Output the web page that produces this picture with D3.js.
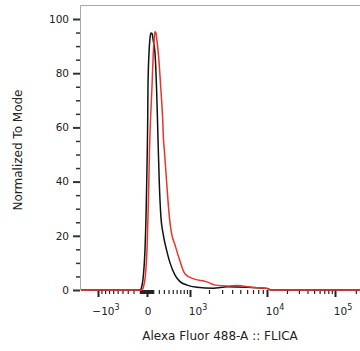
<!DOCTYPE html>
<html>
<head>
<meta charset="utf-8">
<script src="https://cdn.jsdelivr.net/npm/d3@7"></script>
<style>
    body { margin: 0; background: #fff; }
    text { font-family: "DejaVu Sans", sans-serif; fill: #222; }
</style>
</head>
<body>
<svg id="chart" width="360" height="351"></svg>
<script>
//////////////////// DATA ////////////////////
// [fluorescence, % of mode]
const controlCurve = [
    [-1625, 0], [-98, 0], [-73, 1.2], [-51, 4.9], [-27, 14.8], [-13, 27], [-4, 39.5],
    [4.5, 51.7], [10.6, 62.7], [15, 75], [31, 87.5], [47, 93], [62, 94.8], [80, 94.6],
    [100, 92], [130, 87.5], [157, 75], [175, 62.7], [190, 51.7], [209, 39.5], [240, 27],
    [282, 21], [356, 14.8], [435, 10], [557, 5.5], [691, 3.1], [902, 1.8], [1323, 1.0],
    [2295, 0.6], [3510, 1.2], [6104, 1.0], [10000, 0.6], [11500, 0], [262144, 0]
];

const flicaCurve = [
    [-1625, 0], [-69, 0], [-48, 1.2], [-23, 4.9], [0, 14.8], [15, 27], [27.7, 39.5],
    [38.7, 51.7], [54.6, 62.7], [79, 75], [101, 87.5], [118, 93], [130, 95.3], [145, 95],
    [165, 92], [190, 87.5], [236, 75], [276, 62.7], [292, 55.4], [309, 51.7], [360, 39.5],
    [419, 27], [470, 21], [557, 16.6], [663, 11.8], [839, 5.9], [1133, 4.2], [1825, 3.1],
    [2447, 1.8], [3510, 1.5], [4651, 1.7], [6104, 1.2], [7939, 0.8], [10000, 0.6],
    [11500, 0], [262144, 0]
];

// axis ticks
const yMajorTicks = [0, 20, 40, 60, 80, 100];
const yMinorTicks = [5, 10, 15, 25, 30, 35, 45, 50, 55, 65, 70, 75, 85, 90, 95];
const xMajorTicks = [-1000, 0, 1000, 10000, 100000];
const xMinorTicks = [].concat(
    d3.range(-900, 0, 100), d3.range(-90, 0, 10), d3.range(10, 100, 10),
    d3.range(100, 1000, 100), d3.range(2000, 10000, 1000),
    d3.range(20000, 100000, 10000), [200000]
);
const xTickLabels = [
    { value: -1000, base: "\u221210", exp: "3" },
    { value: 0, base: "0", exp: "" },
    { value: 1000, base: "10", exp: "3" },
    { value: 10000, base: "10", exp: "4" },
    { value: 100000, base: "10", exp: "5" }
];

const xTitle = "Alexa Fluor 488-A :: FLICA";
const yTitle = "Normalized To Mode";


//////////////////// SIZES ////////////////////
const plot = { left: 80, right: 360, top: 5, bottom: 290 };
const svg = d3.select("#chart");


//////////////////// SCALES ////////////////////
// biexponential-like display: near-linear round zero, log above 10^3
const x = d3.scaleSymlog()
    .constant(800)
    .domain([-1625, -1000, 0, 1000, 10000, 100000, 262144])
    .range([80, 98, 147, 190, 267, 335, 364]);

const y = d3.scaleLinear()
    .domain([0, 100])
    .range([290, 19]);


//////////////////// AXES ////////////////////
// y major
const yAxisG = svg.append("g")
    .attr("transform", `translate(${plot.left},0)`)
    .call(d3.axisLeft(y).tickValues(yMajorTicks).tickSize(7).tickPadding(4).tickSizeOuter(0));
yAxisG.select(".domain").remove();
yAxisG.selectAll("line").attr("stroke", "#333").attr("stroke-width", 2);
yAxisG.selectAll("text").style("font-size", "10.5px").attr("fill", "#222");

// y minor
const yMinorG = svg.append("g")
    .attr("transform", `translate(${plot.left},0)`)
    .call(d3.axisLeft(y).tickValues(yMinorTicks).tickSize(4).tickFormat("").tickSizeOuter(0));
yMinorG.select(".domain").remove();
yMinorG.selectAll("line").attr("stroke", "#333").attr("stroke-width", 1.5);

// x major
const xAxisG = svg.append("g")
    .attr("transform", `translate(0,${plot.bottom})`)
    .call(d3.axisBottom(x).tickValues(xMajorTicks).tickSize(7).tickFormat("").tickSizeOuter(0));
xAxisG.select(".domain").remove();
xAxisG.selectAll("line").attr("stroke", "#222").attr("stroke-width", 2);

// x minor
const xMinorG = svg.append("g")
    .attr("transform", `translate(0,${plot.bottom})`)
    .call(d3.axisBottom(x).tickValues(xMinorTicks).tickSize(4).tickFormat("").tickSizeOuter(0));
xMinorG.select(".domain").remove();
xMinorG.selectAll("line").attr("stroke", "#222").attr("stroke-width", 1.2);

// x tick labels with exponents
const xLabels = svg.append("g").selectAll("text")
    .data(xTickLabels)
    .enter()
    .append("text")
    .attr("x", d => x(d.value) + (d.exp ? 8 : 1))
    .attr("y", 315)
    .attr("text-anchor", "middle")
    .style("font-size", "10.5px");
xLabels.append("tspan").text(d => d.base);
xLabels.append("tspan")
    .attr("dy", -5)
    .style("font-size", "8px")
    .text(d => d.exp);

// frame lines (left + top)
svg.append("path")
    .attr("d", `M${plot.left + 0.5},${plot.bottom}V${plot.top + 0.5}H${plot.right}`)
    .attr("fill", "none")
    .attr("stroke", "#a8a8a8")
    .attr("stroke-width", 1);


//////////////////// CURVES ////////////////////
svg.append("clipPath")
    .attr("id", "plotClip")
    .append("rect")
    .attr("x", plot.left + 1)
    .attr("y", plot.top)
    .attr("width", plot.right - plot.left)
    .attr("height", plot.bottom - plot.top + 2);

const lineGenerator = d3.line()
    .x(d => x(d[0]))
    .y(d => y(d[1]))
    .curve(d3.curveMonotoneX);

svg.append("path")
    .datum(controlCurve)
    .attr("clip-path", "url(#plotClip)")
    .attr("d", lineGenerator)
    .attr("fill", "none")
    .attr("stroke", "#111")
    .attr("stroke-width", 1.5);

svg.append("path")
    .datum(flicaCurve)
    .attr("clip-path", "url(#plotClip)")
    .attr("d", lineGenerator)
    .attr("fill", "none")
    .attr("stroke", "#e8352b")
    .attr("stroke-width", 1.5);


//////////////////// AXIS TITLES ////////////////////
svg.append("text")
    .attr("x", 220)
    .attr("y", 340)
    .attr("text-anchor", "middle")
    .style("font-size", "12px")
    .text(xTitle);

svg.append("text")
    .attr("transform", "translate(22,150) rotate(-90)")
    .attr("text-anchor", "middle")
    .style("font-size", "12px")
    .text(yTitle);
</script>
</body>
</html>
